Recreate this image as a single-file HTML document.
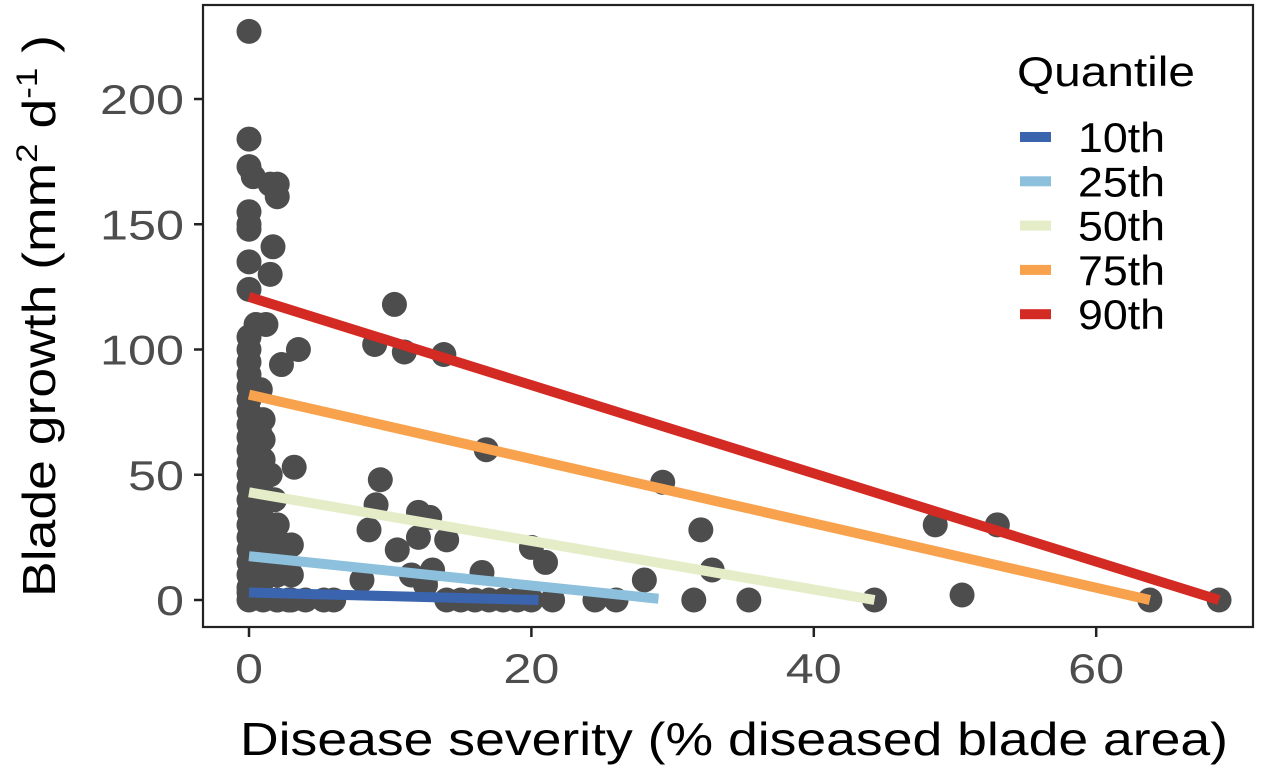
<!DOCTYPE html>
<html><head><meta charset="utf-8"><style>
body{margin:0;background:#fff;}
svg{display:block;font-family:"Liberation Sans",Arial,sans-serif;}
</style></head><body>
<svg id="chart" width="1271" height="770" viewBox="0 0 1271 770">
<rect x="0" y="0" width="1271" height="770" fill="#fff"/>
<g id="marks"></g>
<rect x="203" y="5" width="1050" height="622" fill="none" stroke="#222" stroke-width="2.2"/>
<g id="axes"></g>
<text x="55" y="316" font-size="46" text-anchor="middle" textLength="562" lengthAdjust="spacingAndGlyphs" transform="rotate(-90 55 316)" fill="#000">Blade growth (mm<tspan font-size="30" dy="-18">2</tspan><tspan dy="18"> d</tspan><tspan font-size="30" dy="-18">-1</tspan><tspan dy="18"> )</tspan></text>
<text x="734" y="755" font-size="46" text-anchor="middle" textLength="988" lengthAdjust="spacingAndGlyphs" fill="#000">Disease severity (% diseased blade area)</text>
<g id="legend">
<text x="1017" y="86" font-size="42" textLength="178" lengthAdjust="spacingAndGlyphs" fill="#000">Quantile</text>
</g>
</svg>
<script>
const ptX=[0,0,0,0.3,1.5,2,2,0,0,0,1.7,0,1.5,0,0.5,1.2,0,3.5,2.3,8.9,10.3,11,13.8,16.8,3.2,9.3,29.3,9,8.5,10.5,12,12.8,14,13,11.5,16.5,20,21,32,32.8,28,24.5,26,31.5,35.4,44.3,48.6,50.5,53,63.8,68.7,14,16,17,18,20,21.5,5.3,4,3,2,6,8,
0,0,0,0,0,0,0,0,0,0,0,0,0,0,0,0,0,0,0,0,0,0,1,1,1,1,1,1,1,1,1,1,2,2,2,2,2.5,3,3,1.5,0.8,0.8,0.8,1.8,2.8,0.5,0.5,12,12.5,15,19];
const ptY=[227,184,173,169,166,166,161,155,150,148,141,135,130,124,110,110,105,100,94,102,118,99,98,60,53,48,47,38,28,20,35,33,24,12,10,11,21,15,28,12,8,0,0,0,0,0,30,2,30,0,0,0,0,0,0,0,0,0,0,0,0,0,8,
0,5,10,15,20,25,30,35,40,45,50,55,60,65,70,75,80,85,90,95,100,3,0,8,16,24,32,40,48,56,64,72,0,10,20,30,22,22,10,50,84,66,44,40,0,2,13,25,6,0,0];
const qNames=["10th","25th","50th","75th","90th"];
const qColors=["#3a64ad","#8cc0dd","#e5edc8","#f9a24e","#d42a24"];
const qX0=[0,0,0,0,0];
const qY0=[3,17.5,43,82,121];
const qX1=[20.5,29,44.3,63.8,68.7];
const qY1=[0,0.5,0,0,0];
const xTicks=[0,20,40,60];
const yTicks=[0,50,100,150,200];

const NS="http://www.w3.org/2000/svg";
const sx=v=>249+v*14.12;
const sy=v=>600-v*2.505;
function mk(t,a){const e=document.createElementNS(NS,t);for(const k in a)e.setAttribute(k,a[k]);return e;}
const marks=document.getElementById('marks');
for(let i=0;i<ptX.length;i++){
 const c=mk('circle',{cx:sx(ptX[i]),cy:sy(ptY[i]),r:12.5,fill:'#4d4d4d'});
 
 
 marks.appendChild(c);
}
for(let i=0;i<qNames.length;i++){
 const l=mk('line',{x1:sx(qX0[i]),y1:sy(qY0[i]),x2:sx(qX1[i]),y2:sy(qY1[i]),stroke:qColors[i],'stroke-width':10});
 
 
 marks.appendChild(l);
}
const axes=document.getElementById('axes');
xTicks.forEach(v=>{
 const t=mk('line',{x1:sx(v),y1:628,x2:sx(v),y2:637,stroke:'#222','stroke-width':2.5});
 
 
 axes.appendChild(t);
 const s=mk('text',{x:sx(v),y:683,'font-size':42,'text-anchor':'middle',fill:'#4d4d4d',textLength:String(v).length*28,lengthAdjust:'spacingAndGlyphs'});
 s.textContent=v;
 
 
 axes.appendChild(s);
});
yTicks.forEach(v=>{
 const t=mk('line',{x1:194,y1:sy(v),x2:202,y2:sy(v),stroke:'#222','stroke-width':2.5});
 
 
 axes.appendChild(t);
 const s=mk('text',{x:184,y:sy(v)+15,'font-size':42,'text-anchor':'end',fill:'#4d4d4d',textLength:String(v).length*28,lengthAdjust:'spacingAndGlyphs'});
 s.textContent=v;
 
 
 axes.appendChild(s);
});
const lg=document.getElementById('legend');
qNames.forEach((n,i)=>{
 const y=137+i*44.3;
 const r=mk('rect',{x:1020,y:y-5,width:31,height:10,fill:qColors[i]});
 
 
 lg.appendChild(r);
 const t=mk('text',{x:1078,y:y+15,'font-size':42,fill:'#000',textLength:87,lengthAdjust:'spacingAndGlyphs'});
 t.textContent=n;
 
 
 lg.appendChild(t);
});
</script>
</body></html>
